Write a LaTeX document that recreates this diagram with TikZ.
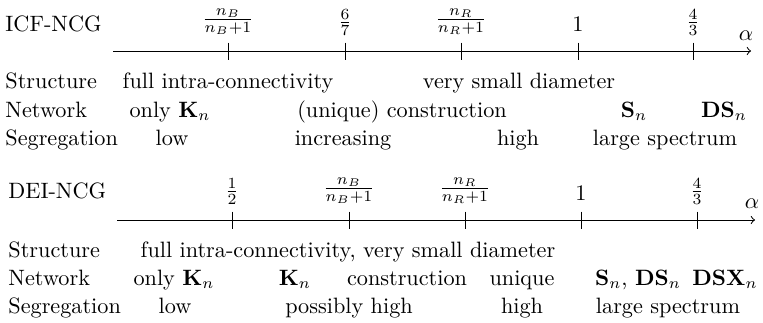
\documentclass[tikz,border=0pt]{standalone}
\usepackage{amsmath}
\begin{document}
\begin{tikzpicture}[x=0.45pt,y=-0.45pt,
  lbl/.style={anchor=base west,inner sep=0pt},
  txt/.style={anchor=base,inner sep=0pt},
  frc/.style={anchor=south,inner sep=0pt},
  axis/.style={->,line width=0.45pt},
  tickmark/.style={line width=0.45pt}]
\useasboundingbox (0,0) rectangle (763,322);
% ---------- top: ICF-NCG ----------
\node[lbl] (icf) at (5,31) {ICF-NCG};
\coordinate (ta) at (113,51);
\coordinate (tb) at (751,51);
\draw[axis] (ta) -- (tb);
\foreach \x/\n in {228/t1,345/t2,461/t3,578/t4,693/t5}{
  \coordinate (\n) at (\x,51);
  \draw[tickmark] (\n) ++(0,-8.5) -- ++(0,17);
}
\node[frc] (tl1) at (228,35) {$\frac{n_B}{n_B+1}$};
\node[frc] (tl2) at (345,36) {$\frac{6}{7}$};
\node[frc] (tl3) at (461,35) {$\frac{n_R}{n_R+1}$};
\node[txt] (tl4) at (578,31) {$1$};
\node[frc] (tl5) at (693,36) {$\frac{4}{3}$};
\node (talpha) at (746,36) {$\alpha$};

\node[lbl] (ts) at (5,88) {Structure};
\node[lbl] (tn) at (5,117) {Network};
\node[lbl] (tg) at (5,145) {Segregation};

\node[txt] (ts1) at (228,88) {full intra-connectivity};
\node[txt] (ts2) at (519,88) {very small diameter};
\node[txt] (tn1) at (170,117) {only $\mathbf{K}_n$};
\node[txt] (tn2) at (402,117) {(unique) construction};
\node[txt] (tn3) at (634,117) {$\mathbf{S}_n$};
\node[txt] (tn4) at (724,117) {$\mathbf{DS}_n$};
\node[txt] (tg1) at (172,145) {low};
\node[txt] (tg2) at (343,145) {increasing};
\node[txt] (tg3) at (518,145) {high};
\node[txt] (tg4) at (665,145) {large spectrum};

% ---------- bottom: DEI-NCG ----------
\node[lbl] (dei) at (8,198) {DEI-NCG};
\coordinate (ba) at (117,220);
\coordinate (bb) at (755,220);
\draw[axis] (ba) -- (bb);
\foreach \x/\n in {232/b1,349/b2,465/b3,581/b4,697/b5}{
  \coordinate (\n) at (\x,220);
  \draw[tickmark] (\n) ++(0,-8.5) -- ++(0,17);
}
\node[frc] (bl1) at (232,205) {$\frac{1}{2}$};
\node[frc] (bl2) at (349,204) {$\frac{n_B}{n_B+1}$};
\node[frc] (bl3) at (465,204) {$\frac{n_R}{n_R+1}$};
\node[txt] (bl4) at (581,200) {$1$};
\node[frc] (bl5) at (697,205) {$\frac{4}{3}$};
\node (balpha) at (752,204) {$\alpha$};

\node[lbl] (bs) at (8,257) {Structure};
\node[lbl] (bn) at (8,285) {Network};
\node[lbl] (bg) at (8,313) {Segregation};

\node[txt] (bs1) at (348,257) {full intra-connectivity, very small diameter};
\node[txt] (bn1) at (174,285) {only $\mathbf{K}_n$};
\node[txt] (bn2) at (295,285) {$\mathbf{K}_n$};
\node[txt] (bn3) at (407,285) {construction};
\node[txt] (bn4) at (522,285) {unique};
\node[txt] (bn5) at (638,285) {$\mathbf{S}_n$, $\mathbf{DS}_n$};
\node[txt] (bn6) at (725,285) {$\mathbf{DSX}_n$};
\node[txt] (bg1) at (175,313) {low};
\node[txt] (bg2) at (349,313) {possibly high};
\node[txt] (bg3) at (522,313) {high};
\node[txt] (bg4) at (668,313) {large spectrum};
\end{tikzpicture}
\end{document}
